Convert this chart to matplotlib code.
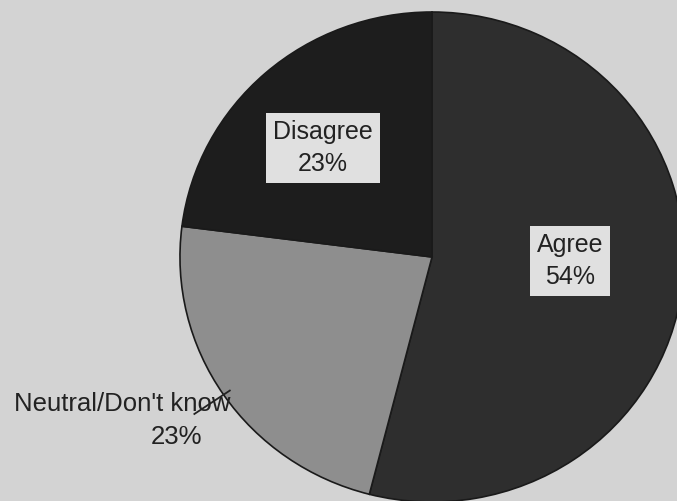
import numpy as np
import matplotlib.pyplot as plt

plt.rcParams['font.family'] = ['Liberation Sans', 'DejaVu Sans']

# respuestas (en orden horario desde las 12)
categorias = ['Agree', 'Neutral/Don\'t know', 'Disagree']
porcentajes = [54, 23, 23]
colores = ['#2e2e2e', '#8e8e8e', '#1d1d1d']

fig = plt.figure(figsize=(6.77, 5.01), dpi=100, facecolor='#d3d3d3')
ax = fig.add_axes([0, 0, 1, 1])
ax.set_facecolor('#d3d3d3')

wedges, _ = ax.pie(porcentajes, colors=colores, startangle=90, counterclock=False,
                   radius=1, wedgeprops=dict(edgecolor='#1a1a1a', linewidth=1.2))

# el pastel sale un poco ovalado y cortado a la derecha/abajo
ax.set_aspect('auto')
ax.set_xlim(-1.714, 0.972)
ax.set_ylim(-0.996, 1.049)
ax.axis('off')

caja = dict(boxstyle='square,pad=0.28', facecolor='#e0e0e0', edgecolor='none')

ax.text(0.548, -0.016, f'{categorias[0]}\n{porcentajes[0]}%', ha='center', va='center',
        fontsize=18, color='#222222', bbox=caja, linespacing=1.45)
ax.text(-0.433, 0.445, f'{categorias[2]}\n{porcentajes[2]}%', ha='center', va='center',
        fontsize=18, color='#222222', bbox=caja, linespacing=1.45)

# etiqueta de afuera con su linea guia
w = wedges[1]
ang = np.deg2rad((w.theta1 + w.theta2) / 2)
ax.plot([0.97 * np.cos(ang), 1.14 * np.cos(ang)],
        [0.97 * np.sin(ang), 1.14 * np.sin(ang)], color='#222222', lw=1.3)
ax.text(-1.230, -0.60, categorias[1], ha='center', va='center', fontsize=18.5, color='#222222')
ax.text(-1.012, -0.735, f'{porcentajes[1]}%', ha='center', va='center', fontsize=18.5, color='#222222')

fig.savefig('out.png', dpi=100, facecolor=fig.get_facecolor())
